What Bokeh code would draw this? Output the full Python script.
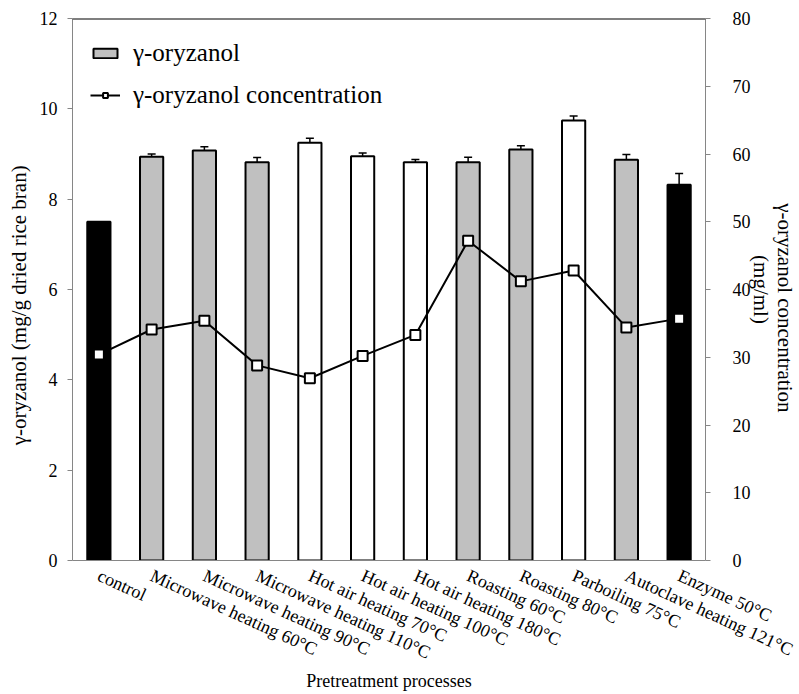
from bokeh.plotting import figure
from bokeh.models import (FactorRange, Range1d, LinearAxis, Whisker, TeeHead,
                          Legend, LegendItem, ColumnDataSource, Span, FixedTicker)
from bokeh.embed import file_html
from bokeh.resources import INLINE

categories = ["control", "Microwave heating 60°C", "Microwave heating 90°C",
              "Microwave heating 110°C", "Hot air heating 70°C", "Hot air heating 100°C",
              "Hot air heating 180°C", "Roasting 60°C", "Roasting 80°C",
              "Parboiling 75°C", "Autoclave heating 121°C", "Enzyme 50°C"]
oryzanol = [7.50, 8.94, 9.08, 8.82, 9.25, 8.95, 8.82, 8.82, 9.10, 9.74, 8.87, 8.32]
oryzanol_err = [0.0, 0.06, 0.08, 0.10, 0.10, 0.07, 0.06, 0.11, 0.08, 0.10, 0.12, 0.25]
concentration = [30.4, 34.1, 35.4, 28.8, 26.9, 30.2, 33.3, 47.2, 41.2, 42.8, 34.4, 35.7]
bar_colors = ["#000000", "#C0C0C0", "#C0C0C0", "#C0C0C0", "#FFFFFF", "#FFFFFF",
              "#FFFFFF", "#C0C0C0", "#C0C0C0", "#FFFFFF", "#C0C0C0", "#000000"]
left_ticks = [0, 2, 4, 6, 8, 10, 12]
right_ticks = [0, 10, 20, 30, 40, 50, 60, 70, 80]

FONT = "'Liberation Serif', 'Times New Roman', serif"
AXIS_GRAY = "#868686"
NB = "\u00a0"

src = ColumnDataSource(dict(
    cat=categories, val=oryzanol,
    upper=[v + e for v, e in zip(oryzanol, oryzanol_err)],
    lower=[v - e for v, e in zip(oryzanol, oryzanol_err)],
    color=bar_colors, conc=concentration,
))

p = figure(x_range=FactorRange(factors=categories, range_padding=0),
           y_range=Range1d(0, 12), width=799, height=694,
           output_backend="svg", toolbar_location=None,
           min_border_left=72, min_border_right=93, min_border_top=18, min_border_bottom=134)
p.extra_y_ranges = {"right": Range1d(0, 80)}
p.xgrid.visible = False
p.ygrid.visible = False
p.outline_line_color = None

bars = p.vbar(x="cat", top="val", width=0.44, source=src, fill_color="color",
              line_color="black", line_width=2)

whisk = Whisker(base="cat", upper="upper", lower="lower", source=src,
                line_color="black", line_width=1.5,
                upper_head=TeeHead(size=8, line_color="black", line_width=1.5),
                lower_head=TeeHead(size=8, line_color="black", line_width=1.5))
p.add_layout(whisk)

ln = p.line(x="cat", y="conc", source=src, y_range_name="right",
            line_color="black", line_width=2)
mk = p.scatter(x="cat", y="conc", source=src, y_range_name="right", marker="square",
               size=10, fill_color="white", line_color="black", line_width=2)

p.add_layout(Span(location=12, dimension="width", line_color="black", line_width=2))

ya = p.yaxis[0]
ya.ticker = FixedTicker(ticks=left_ticks)
ra = LinearAxis(y_range_name="right", ticker=FixedTicker(ticks=right_ticks))
p.add_layout(ra, "right")

for ax in (ya, ra):
    ax.axis_line_color = AXIS_GRAY
    ax.major_tick_line_color = AXIS_GRAY
    ax.major_tick_out = 5
    ax.major_tick_in = 0
    ax.minor_tick_line_color = None
    ax.major_label_text_font = FONT
    ax.major_label_text_font_size = "18px"
    ax.major_label_text_color = "black"
    ax.axis_label_text_font = FONT
    ax.axis_label_text_font_size = "21px"
    ax.axis_label_text_font_style = "normal"
    ax.axis_label_text_color = "black"
ya.major_label_standoff = 10
ra.major_label_standoff = 22
ya.axis_label = "γ-oryzanol (mg/g dried rice bran)" + NB * 6
ya.axis_label_standoff = 6
ra.axis_label = NB * 7 + "γ-oryzanol concentration\n(mg/ml)"
ra.axis_label_text_line_height = 1.0
ra.axis_label_standoff = -5

xa = p.xaxis[0]
xa.axis_line_color = AXIS_GRAY
xa.major_tick_line_color = None
xa.major_tick_out = 0
xa.major_tick_in = 0
xa.major_label_orientation = -0.43
xa.major_label_text_font = FONT
xa.major_label_text_font_size = "18px"
xa.major_label_text_color = "black"
xa.major_label_standoff = 14
xa.axis_label = "Pretreatment processes"
xa.axis_label_text_font = FONT
xa.axis_label_text_font_size = "18px"
xa.axis_label_text_font_style = "normal"
xa.axis_label_text_color = "black"
xa.axis_label_standoff = -4

legend = Legend(items=[
    LegendItem(label="γ-oryzanol", renderers=[bars], index=1),
    LegendItem(label="γ-oryzanol concentration", renderers=[ln, mk]),
], location="top_left")
legend.label_text_font = FONT
legend.label_text_font_size = "25px"
legend.label_text_color = "black"
legend.glyph_width = 30
legend.glyph_height = 12
legend.label_height = 34
legend.label_standoff = 13
legend.spacing = 8
legend.margin = 18
legend.border_line_color = None
legend.background_fill_alpha = 0
p.add_layout(legend)

open("out.html", "w").write(file_html(p, INLINE))
